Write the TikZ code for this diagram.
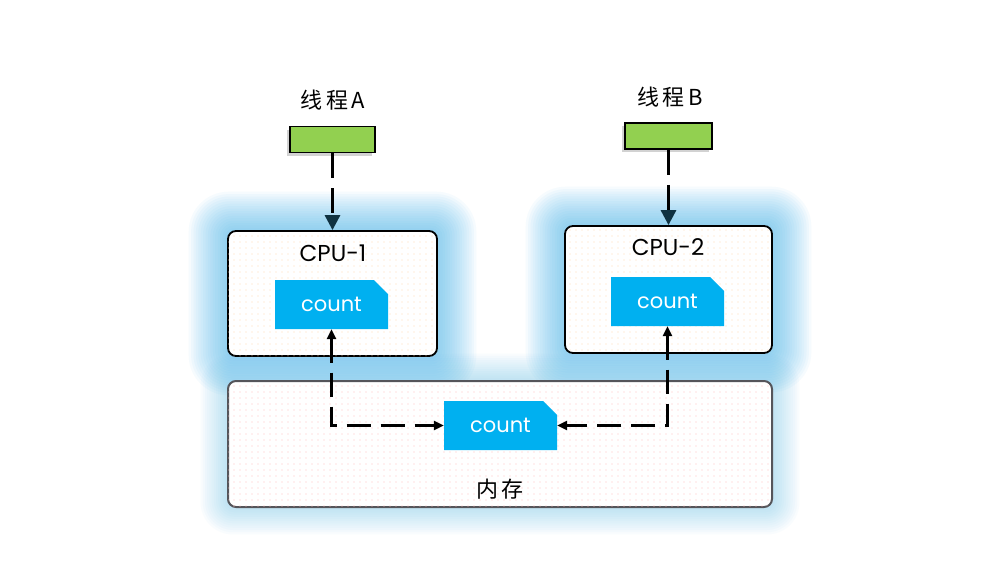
\documentclass[tikz,border=0pt]{standalone}
\usepackage{fontspec}
\setmainfont{Poppins}
\newfontfamily\cjk{Noto Sans CJK SC}
\usetikzlibrary{arrows.meta,shapes.misc,patterns.meta,shadows,backgrounds}
\pgfdeclarelayer{bottom}
\pgfsetlayers{bottom,background,main}
\definecolor{glow}{RGB}{80,185,240}
\definecolor{threadgreen}{RGB}{146,208,80}
\definecolor{countblue}{RGB}{0,176,240}
\definecolor{tipnavy}{RGB}{15,50,65}
\definecolor{memborder}{RGB}{85,85,90}
\tikzset{
  cpubox/.style={draw=black, line width=1.8pt, rounded corners=8pt, fill=white,
    postaction={pattern={Dots[radius=0.6pt,distance=6pt]}, pattern color=orange!30}},
  membox/.style={draw=memborder, line width=2pt, rounded corners=8pt, fill=white,
    postaction={pattern={Dots[radius=0.6pt,distance=6pt]}, pattern color=red!25}},
  countbox/.style={chamfered rectangle, chamfered rectangle corners=north east,
    chamfered rectangle xsep=7pt, chamfered rectangle ysep=7pt,
    fill=countblue, draw=none, text=white, minimum width=113pt, minimum height=49pt,
    inner sep=0pt, font=\fontsize{21}{24}\selectfont},
  threadbox/.style={draw=black, line width=1.6pt, fill=threadgreen, minimum height=26pt,
    inner sep=0pt, drop shadow={shadow xshift=-3pt, shadow yshift=-3pt, opacity=0.35}},
  lbl/.style={font=\fontsize{23}{27}\selectfont, inner sep=0pt},
  cjklbl/.style={font=\cjk\fontsize{22}{26}\selectfont, inner sep=0pt},
  toparrow/.style={draw=black, line width=3pt, dash pattern=on 25pt off 10pt,
    -{Triangle[width=15pt,length=15pt,fill=tipnavy,color=tipnavy]}},
  botarrow/.style={draw=black, line width=2.6pt, dash pattern=on 24pt off 10pt,
    {Triangle[width=9pt,length=10pt]}-{Triangle[width=9pt,length=10pt]}},
}
\begin{document}
\begin{tikzpicture}[x=1pt,y=-1pt]
\useasboundingbox (0,0) rectangle (1000,560);
\begin{pgfonlayer}{bottom}
\fill[white] (0,0) rectangle (1000,560);
\end{pgfonlayer}

% boxes
\node[membox, minimum width=544pt, minimum height=126pt] (mem) at (500,444) {};
\node[cpubox, minimum width=209pt, minimum height=125pt] (cpu1) at (332.5,293.5) {};
\node[cpubox, minimum width=207pt, minimum height=127pt] (cpu2) at (668.5,289.5) {};

% glows
\begin{scope}[on background layer]
  \foreach \i in {1,...,12}{
    \fill[glow, opacity=0.03, rounded corners={8+2*\i}]
      ([shift={(-2.2*\i,-2.2*\i)}]mem.north west) rectangle ([shift={(2.2*\i,2.2*\i)}]mem.south east);
  }
  \foreach \n in {cpu1,cpu2}{
    \foreach \i in {1,...,16}{
      \fill[glow, opacity=0.05, rounded corners={8+2*\i}]
        ([shift={(-2.4*\i,-2.4*\i)}]\n.north west) rectangle ([shift={(2.4*\i,2.4*\i)}]\n.south east);
    }
  }
\end{scope}

% labels
\node[lbl] (cpu1lbl) at (333,253) {CPU-1};
\node[lbl] (cpu2lbl) at (668,247) {CPU-2};
\node[cjklbl] (memlbl) at (500,489) {内\,存};
\node[cjklbl] (talbl) at (333,100) {线\,程\,A};
\node[cjklbl] (tblbl) at (670,97) {线\,程\,B};

% thread boxes
\node[threadbox, minimum width=85pt] (ta) at (332.5,139.5) {};
\node[threadbox, minimum width=87pt] (tb) at (668.5,136) {};

% count boxes
\node[countbox] (c1) at (331.5,304.5) {count};
\node[countbox] (c2) at (667.5,301.5) {count};
\node[countbox] (cm) at (500.5,425.5) {count};

% connectors
\draw[toparrow] (ta.south) -- (cpu1.north);
\draw[toparrow] (tb.south) -- (cpu2.north);
\draw[botarrow] (c1.south) |- (cm.west);
\draw[botarrow] (c2.south) |- (cm.east);
\end{tikzpicture}
\end{document}
